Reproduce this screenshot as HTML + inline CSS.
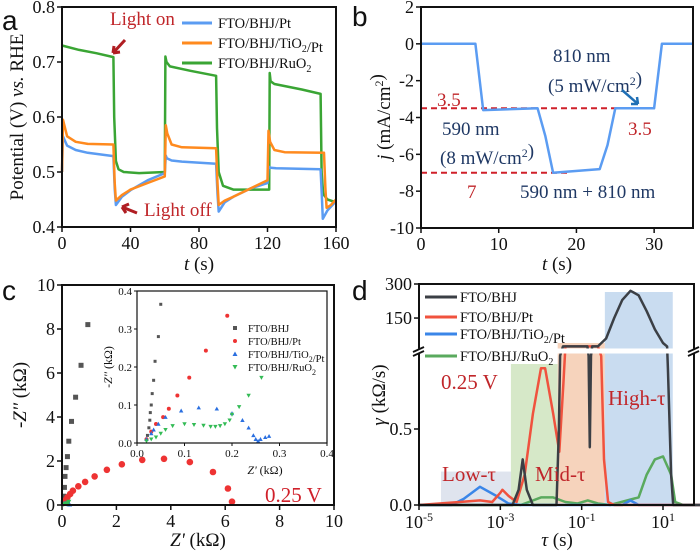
<!DOCTYPE html>
<html><head><meta charset="utf-8"><style>
html,body{margin:0;padding:0;background:#fff;}
svg{display:block;}
text{font-family:"Liberation Serif","Times New Roman",serif;}
.tk{font-size:18px;fill:#111;}
.tt{font-size:19px;fill:#111;}
text.pl{font-family:"Liberation Sans",sans-serif;font-size:28px;fill:#111;}
</style></head><body>
<svg id="s" width="700" height="552" viewBox="0 0 700 552" xmlns="http://www.w3.org/2000/svg"></svg>
<script>
// ---------- Panel a data ----------
const aPtT=[0,0.5,3,8,15,30,30.8,31.5,35,40,50,60,60.6,61.2,64,70,90,90.8,91.5,95,100,110,120,120.6,121.2,125,151,151.8,152.3,155,160];
const aPtV=[0.50,0.565,0.548,0.54,0.535,0.529,0.47,0.44,0.455,0.467,0.485,0.498,0.53,0.525,0.521,0.519,0.515,0.46,0.428,0.445,0.455,0.47,0.48,0.51,0.508,0.507,0.505,0.45,0.415,0.43,0.447];
const aTiT=[0,0.6,3,8,15,30,30.8,31.5,35,40,50,60,60.6,61.5,64,70,90,90.8,91.5,95,100,110,120,120.6,121.5,124,130,153,153.8,154.5,157,160];
const aTiV=[0.50,0.595,0.565,0.555,0.551,0.55,0.48,0.448,0.458,0.468,0.48,0.492,0.585,0.57,0.55,0.545,0.543,0.48,0.44,0.448,0.455,0.47,0.485,0.575,0.555,0.54,0.536,0.535,0.47,0.435,0.44,0.45];
const aRuT=[0,10,20,30,30.5,31.5,33,36,45,60,60.4,61,63,75,90,90.5,91.5,94,100,121,121.3,121.8,124,140,151,151.6,152.5,155,160];
const aRuV=[0.73,0.722,0.716,0.709,0.6,0.52,0.505,0.50,0.498,0.50,0.71,0.70,0.692,0.684,0.675,0.58,0.5,0.475,0.468,0.468,0.68,0.665,0.66,0.65,0.642,0.5,0.46,0.45,0.445];
const aXT=[0,40,80,120,160], aYT=[0.4,0.5,0.6,0.7,0.8];
// ---------- Panel b data ----------
const bT=[0,7,8,15,16,17,23,24,25,30,31,35];
const bJ=[0,0,-3.6,-3.5,-5,-7,-6.8,-5.5,-3.5,-3.5,0,0];
const bXT=[0,10,20,30], bYT=[2,0,-2,-4,-6,-8,-10];
// ---------- Panel c data ----------
const cBhjX=[0.05,0.07,0.09,0.11,0.15,0.2,0.25,0.35,0.5,0.7,0.95];
const cBhjY=[0.1,0.4,0.8,1.3,1.7,2.2,2.9,3.8,4.9,6.35,8.2];
const cPtX=[0.1,0.2,0.3,0.4,0.6,0.85,1.2,1.65,2.2,2.95,3.75,4.7,5.55,6.1,6.25];
const cPtY=[0.2,0.35,0.5,0.65,0.85,1.05,1.3,1.6,1.85,2.05,2.1,1.95,1.5,0.75,0.15];
const cTiX=[0.05,0.1,0.15,0.2,0.25,0.28];
const cTiY=[0.05,0.08,0.09,0.08,0.04,0.02];
const cRuX=[0.05,0.1,0.15,0.2,0.25];
const cRuY=[0.03,0.05,0.05,0.08,0.15];
const iBhjX=[0.02,0.022,0.025,0.027,0.028,0.03,0.032,0.035,0.038,0.045,0.05];
const iBhjY=[0.01,0.02,0.04,0.06,0.08,0.1,0.13,0.165,0.215,0.28,0.365];
const iPtX=[0.02,0.03,0.04,0.055,0.067,0.085,0.11,0.145,0.19];
const iPtY=[0.01,0.03,0.05,0.068,0.09,0.125,0.172,0.243,0.335];
const iTiX=[0.02,0.03,0.035,0.045,0.06,0.093,0.13,0.168,0.2,0.222,0.235,0.245,0.25,0.255,0.26,0.27,0.278];
const iTiY=[0.01,0.025,0.035,0.05,0.068,0.085,0.093,0.09,0.078,0.06,0.04,0.02,0.01,0.005,0.01,0.015,0.018];
const iRuX=[0.02,0.03,0.04,0.05,0.06,0.075,0.1,0.12,0.14,0.155,0.165,0.175,0.185,0.195,0.2,0.215,0.235,0.262];
const iRuY=[0.005,0.01,0.015,0.025,0.035,0.045,0.05,0.048,0.046,0.043,0.043,0.045,0.05,0.06,0.075,0.095,0.125,0.172];
const cT=[0,2,4,6,8,10], iT=[0,0.1,0.2,0.3,0.4];
// ---------- Panel d data (log10 tau, gamma) ----------
const dBhjL=[-5,-2.7,-2.55,-2.45,-2.35,-2.2,-1.62,-1.56,-1.53,-1.46,-0.86,-0.83,-0.8,-0.77,-0.74,-0.6,-0.4,-0.2,0,0.2,0.4,0.6,0.8,1.0,1.1,1.12,1.2,1.25,2];
const dBhjG=[0,0,0.1,0.3,0.1,0,0,0.5,1.5,25,25,1.2,0.38,1.2,25,25,60,150,230,270,250,180,100,40,25,0.9,0.2,0,0];
const dPtL=[-5,-4,-3.5,-3.2,-3,-2.95,-2.8,-2.6,-2.4,-2.2,-2.0,-1.9,-1.7,-1.55,-1.45,-1.4,-0.6,-0.52,-0.45,-0.35,-0.2,2];
const dPtG=[0,0.02,0.03,0.02,0.08,0.1,0.06,0.02,0.2,0.6,0.9,0.9,0.6,0.35,0.8,25,25,1.0,0.3,0.02,0,0];
const dTiL=[-5,-4.2,-3.9,-3.5,-3.1,-2.8,-2.5,0,0.2,0.4,2];
const dTiG=[0,0,0.04,0.12,0.06,0.01,0,0,0.03,0,0];
const dRuL=[-5,-2.5,-2.3,-2,-1.7,-1.4,-1.1,-0.85,-0.6,-0.3,0.4,0.6,0.8,1.0,1.2,1.3,1.5,2];
const dRuG=[0,0,0.02,0.05,0.05,0.02,0.01,0.03,0.01,0,0.05,0.2,0.3,0.32,0.2,0.02,0,0];

const S=document.getElementById('s');
const NS='http://www.w3.org/2000/svg';
function mk(tag,attrs,name,txt){const e=document.createElementNS(NS,tag);for(const k in attrs)e.setAttribute(k,attrs[k]);


if(txt!==undefined)e.textContent=txt;S.appendChild(e);return e;}
function sub(t,fs){return '<tspan dy="4" font-size="'+fs+'">'+t+'</tspan><tspan dy="-4"></tspan>';}
function sup(t,fs){return '<tspan dy="-7" font-size="'+fs+'">'+t+'</tspan><tspan dy="7"></tspan>';}
function lin(d0,d1,r0,r1){return v=>r0+(v-d0)*(r1-r0)/(d1-d0);}
function poly(xs,ys,fx,fy,col,name,w){let d='';for(let i=0;i<xs.length;i++)d+=(i?'L':'M')+fx(xs[i]).toFixed(1)+','+fy(ys[i]).toFixed(1);
return mk('path',{d:d,fill:'none',stroke:col,'stroke-width':w||2.5,'stroke-linejoin':'round'},name);}
function frame(x0,y0,x1,y1,name){mk('rect',{x:x0,y:y0,width:x1-x0,height:y1-y0,fill:'none',stroke:'#111','stroke-width':2},name);}
function xticks(vals,fx,y,name,fmt){vals.forEach(v=>{const x=fx(v);mk('line',{x1:x,y1:y,x2:x,y2:y+5,stroke:'#111','stroke-width':1.5},name+'-tick');
mk('text',{x:x,y:y+22,'text-anchor':'middle',class:'tk'},name+'-label',fmt?fmt(v):String(v));});}
function yticks(vals,fy,x,name,fmt){vals.forEach(v=>{const y=fy(v);mk('line',{x1:x-5,y1:y,x2:x,y2:y,stroke:'#111','stroke-width':1.5},name+'-tick');
mk('text',{x:x-7,y:y+6,'text-anchor':'end',class:'tk'},name+'-label',fmt?fmt(v):String(v));});}

// ===== Panel a =====
{const fx=lin(0,160,62,336),fy=lin(0.4,0.8,227,7);
mk('text',{x:2,y:30,class:'pl'},'panel-a-letter','a');
poly(aRuT,aRuV,fx,fy,'#3aa534','series-ruo2');
poly(aPtT,aPtV,fx,fy,'#5b9cf2','series-pt');
poly(aTiT,aTiV,fx,fy,'#ff8a1e','series-tio2-pt');
frame(62,7,336,227,'plot-frame-a');
xticks(aXT,fx,227,'x-axis-a');yticks(aYT,fy,62,'y-axis-a',v=>v.toFixed(1));
mk('text',{x:199,y:270,'text-anchor':'middle',class:'tt'},'x-axis-title-a','').innerHTML='<tspan font-style="italic">t</tspan> (s)';
mk('text',{transform:'translate(23,117) rotate(-90)','text-anchor':'middle',class:'tt'},'y-axis-title-a','').innerHTML='Potential (V) <tspan font-style="italic">vs.</tspan> RHE';
mk('text',{x:110,y:25,class:'tt',style:'fill:#c0262a'},'annotation-light-on','Light on');
mk('text',{x:144,y:216,class:'tt',style:'fill:#c0262a'},'annotation-light-off','Light off');
mk('path',{d:'M125,40 L113,53 M113,53 l1,-7 M113,53 l7,-1',stroke:'#b01e23','stroke-width':3,fill:'none'},'arrow-light-on');
mk('path',{d:'M137,213 L122,207 M122,207 l7,-3 M122,207 l4,6',stroke:'#b01e23','stroke-width':3,fill:'none'},'arrow-light-off');
const lg=[['#5b9cf2','FTO/BHJ/Pt'],['#ff8a1e','FTO/BHJ/TiO'+sub('2',10)+'/Pt'],['#3aa534','FTO/BHJ/RuO'+sub('2',10)]];
lg.forEach((l,i)=>{const y=23+i*20;mk('line',{x1:182,y1:y,x2:212,y2:y,stroke:l[0],'stroke-width':3},'legend-a-swatch');
mk('text',{x:218,y:y+5,class:'tt',style:'font-size:14.5px'},'legend-a-entry','').innerHTML=l[1];});}

// ===== Panel b =====
{const fx=lin(0,35,421,693),fy=lin(-10,2,228,7);
mk('text',{x:352,y:26,class:'pl'},'panel-b-letter','b');
mk('line',{x1:421,y1:fy(-3.5),x2:fx(30),y2:fy(-3.5),stroke:'#d0202a','stroke-width':2,'stroke-dasharray':'6,4'},'ref-line-3.5');
mk('line',{x1:421,y1:fy(-7),x2:fx(19),y2:fy(-7),stroke:'#d0202a','stroke-width':2,'stroke-dasharray':'6,4'},'ref-line-7');
poly(bT,bJ,fx,fy,'#5b9cf2','series-photocurrent');
frame(421,7,693,228,'plot-frame-b');
xticks(bXT,fx,228,'x-axis-b');yticks(bYT,fy,421,'y-axis-b');
mk('text',{x:557,y:270,'text-anchor':'middle',class:'tt'},'x-axis-title-b','').innerHTML='<tspan font-style="italic">t</tspan> (s)';
mk('text',{transform:'translate(390,117) rotate(-90)','text-anchor':'middle',class:'tt'},'y-axis-title-b','').innerHTML='<tspan font-style="italic">j</tspan> (mA/cm'+sup('2',12)+')';
const nv='fill:#1f3864';
mk('text',{x:553,y:62,class:'tt',style:nv},'label-810nm','810 nm');
mk('text',{x:548,y:92,class:'tt',style:nv},'label-810-power','').innerHTML='(5 mW/cm'+sup('2',12)+')';
mk('text',{x:442,y:135,class:'tt',style:nv},'label-590nm','590 nm');
mk('text',{x:440,y:164,class:'tt',style:nv},'label-590-power','').innerHTML='(8 mW/cm'+sup('2',12)+')';
mk('text',{x:520,y:198,class:'tt',style:nv},'label-590-810','590 nm + 810 nm');
const rd='fill:#c0262a';
mk('text',{x:437,y:106,class:'tt',style:rd},'label-3.5-left','3.5');
mk('text',{x:628,y:135,class:'tt',style:rd},'label-3.5-right','3.5');
mk('text',{x:467,y:198,class:'tt',style:rd},'label-7','7');
mk('path',{d:'M622,90 L638,104 M638,104 l-7,0 M638,104 l-1,-7',stroke:'#1f6fb5','stroke-width':2.5,fill:'none'},'arrow-810');}

// ===== Panel c =====
{const fx=lin(0,10,62,334),fy=lin(0,10,505,285);
mk('text',{x:2,y:300,class:'pl'},'panel-c-letter','c');
function sq(xs,ys,fx,fy,col,n,s){xs.forEach((x,i)=>mk('rect',{x:fx(x)-s/2,y:fy(ys[i])-s/2,width:s,height:s,fill:col},n));}
function ci(xs,ys,fx,fy,col,n,r){xs.forEach((x,i)=>mk('circle',{cx:fx(x),cy:fy(ys[i]),r:r,fill:col},n));}
function tri(xs,ys,fx,fy,col,n,s,dn){xs.forEach((x,i)=>{const X=fx(x),Y=fy(ys[i]);const d=dn?`M${X-s},${Y-s*0.8}L${X+s},${Y-s*0.8}L${X},${Y+s}Z`:`M${X-s},${Y+s*0.8}L${X+s},${Y+s*0.8}L${X},${Y-s}Z`;mk('path',{d:d,fill:col},n);});}
sq(cBhjX,cBhjY,fx,fy,'#555','marker-bhj',5);
ci(cPtX,cPtY,fx,fy,'#ee3333','marker-pt',3.3);
tri(cTiX,cTiY,fx,fy,'#2a6fe0','marker-tio2',2.5,false);
tri(cRuX,cRuY,fx,fy,'#33bb55','marker-ruo2',2.5,true);
frame(62,285,334,505,'plot-frame-c');
xticks(cT,fx,505,'x-axis-c');yticks(cT,fy,62,'y-axis-c');
mk('text',{x:198,y:546,'text-anchor':'middle',class:'tt'},'x-axis-title-c','').innerHTML='<tspan font-style="italic">Z\'</tspan> (kΩ)';
mk('text',{transform:'translate(26,395) rotate(-90)','text-anchor':'middle',class:'tt'},'y-axis-title-c','').innerHTML='-<tspan font-style="italic">Z\'\'</tspan> (kΩ)';
mk('text',{x:265,y:502,class:'tt',style:'fill:#d0202a;font-size:21px'},'label-0.25v-c','0.25 V');
const gx=lin(0,0.4,137,327),gy=lin(0,0.4,443,291);
mk('rect',{x:137,y:291,width:190,height:152,fill:'#fff'},'inset-bg');
sq(iBhjX,iBhjY,gx,gy,'#555','inset-marker-bhj',3);
ci(iPtX,iPtY,gx,gy,'#ee3333','inset-marker-pt',2);
tri(iTiX,iTiY,gx,gy,'#2a6fe0','inset-marker-tio2',2.2,false);
tri(iRuX,iRuY,gx,gy,'#33bb55','inset-marker-ruo2',2.2,true);
mk('rect',{x:137,y:291,width:190,height:152,fill:'none',stroke:'#111','stroke-width':1.2},'inset-frame');
iT.forEach(v=>{mk('line',{x1:gx(v),y1:443,x2:gx(v),y2:446,stroke:'#111'},'inset-x-tick');
mk('text',{x:gx(v),y:457,'text-anchor':'middle',class:'tk',style:'font-size:11px'},'inset-x-label',v.toFixed(1));
mk('line',{x1:134,y1:gy(v),x2:137,y2:gy(v),stroke:'#111'},'inset-y-tick');
mk('text',{x:132,y:gy(v)+4,'text-anchor':'end',class:'tk',style:'font-size:11px'},'inset-y-label',v.toFixed(1));});
mk('text',{x:265,y:474,'text-anchor':'middle',class:'tt',style:'font-size:12px'},'inset-x-title','').innerHTML='<tspan font-style="italic">Z\'</tspan> (kΩ)';
mk('text',{transform:'translate(112,367) rotate(-90)','text-anchor':'middle',class:'tt',style:'font-size:12px'},'inset-y-title','').innerHTML='-<tspan font-style="italic">Z\'\'</tspan> (kΩ)';
const ly=[328,341,354,367],lx=235;
mk('rect',{x:lx-2,y:ly[0]-2,width:4,height:4,fill:'#555'},'inset-legend-bhj-marker');
mk('circle',{cx:lx,cy:ly[1],r:2,fill:'#ee3333'},'inset-legend-pt-marker');
mk('path',{d:`M${lx-2.5},${ly[2]+2}L${lx+2.5},${ly[2]+2}L${lx},${ly[2]-2.5}Z`,fill:'#2a6fe0'},'inset-legend-tio2-marker');
mk('path',{d:`M${lx-2.5},${ly[3]-2}L${lx+2.5},${ly[3]-2}L${lx},${ly[3]+2.5}Z`,fill:'#33bb55'},'inset-legend-ruo2-marker');
['FTO/BHJ','FTO/BHJ/Pt','FTO/BHJ/TiO'+sub('2',8)+'/Pt','FTO/BHJ/RuO'+sub('2',8)].forEach((t,i)=>
mk('text',{x:lx+13,y:ly[i]+4,class:'tk',style:'font-size:10.5px'},'inset-legend-entry','').innerHTML=t);}

// ===== Panel d =====
{const fx=lin(-5,1,419,663);
const lo=lin(0,0.5,505,429), hi=lin(18,300,348,284);
const fy=g=>g<=0.98?lo(g):(g<18?356-(g-0.98)*(8/17):hi(g));
mk('text',{x:352,y:300,class:'pl'},'panel-d-letter','d');
const L=v=>fx(v);
mk('rect',{x:L(-4.46),y:lo(0.22),width:L(-2.74)-L(-4.46),height:505-lo(0.22),fill:'#dfe4ee'},'region-low-tau');
mk('rect',{x:L(-2.74),y:364,width:L(-1.59)-L(-2.74),height:141,fill:'#d6e8c8'},'region-mid-tau-green');
mk('rect',{x:L(-1.59),y:343,width:L(-0.43)-L(-1.59),height:162,fill:'#f6d3bc'},'region-mid-tau-orange');
mk('rect',{x:L(-0.43),y:292,width:L(1.24)-L(-0.43),height:213,fill:'#c9dcf0'},'region-high-tau');
poly(dRuL,dRuG,fx,fy,'#5aaa5e','series-d-ruo2',2.5);
poly(dTiL,dTiG,fx,fy,'#3a86e8','series-d-tio2',2.5);
poly(dPtL,dPtG,fx,fy,'#f0523e','series-d-pt',2.5);
poly(dBhjL,dBhjG,fx,fy,'#3b3f45','series-d-bhj',2.5);
mk('rect',{x:420,y:348.5,width:273,height:5,fill:'#fff'},'axis-break-gap');
frame(419,284,694,505,'plot-frame-d');
mk('rect',{x:412,y:348.5,width:286,height:5,fill:'#fff'},'axis-break-gap-frame');
['M413,352 l11,-5','M413,356 l11,-5','M688,352 l11,-5','M688,356 l11,-5'].forEach(d=>mk('path',{d:d,stroke:'#111','stroke-width':1.8},'axis-break-mark'));
const dx=[-5,-3,-1,1];
dx.forEach(v=>{const x=fx(v);mk('line',{x1:x,y1:505,x2:x,y2:510,stroke:'#111','stroke-width':1.5},'x-axis-d-tick');
mk('text',{x:x,y:528,'text-anchor':'middle',class:'tk'},'x-axis-d-label','').innerHTML='10'+sup(String(v),12);});
[[0,'0.0'],[0.5,'0.5']].forEach(t=>{const y=lo(t[0]);mk('line',{x1:414,y1:y,x2:419,y2:y,stroke:'#111','stroke-width':1.5},'y-axis-d-tick');
mk('text',{x:412,y:y+6,'text-anchor':'end',class:'tk'},'y-axis-d-label',t[1]);});
[[150,'150'],[300,'300']].forEach(t=>{const y=hi(t[0]);mk('line',{x1:414,y1:y,x2:419,y2:y,stroke:'#111','stroke-width':1.5},'y-axis-d-tick');
mk('text',{x:412,y:y+6,'text-anchor':'end',class:'tk'},'y-axis-d-label',t[1]);});
mk('text',{x:557,y:546,'text-anchor':'middle',class:'tt'},'x-axis-title-d','').innerHTML='<tspan font-style="italic">τ</tspan> (s)';
mk('text',{transform:'translate(385,395) rotate(-90)','text-anchor':'middle',class:'tt'},'y-axis-title-d','').innerHTML='<tspan font-style="italic">γ</tspan> (kΩ/s)';
const rd='fill:#c0262a';
mk('text',{x:442,y:481,class:'tt',style:rd+';font-size:21px'},'label-low-tau','Low-τ');
mk('text',{x:535,y:481,class:'tt',style:rd+';font-size:21px'},'label-mid-tau','Mid-τ');
mk('text',{x:608,y:405,class:'tt',style:rd+';font-size:21px'},'label-high-tau','High-τ');
mk('text',{x:441,y:389,class:'tt',style:rd+';font-size:21px'},'label-0.25v-d','0.25 V');
const lg=[['#3b3f45','FTO/BHJ'],['#f0523e','FTO/BHJ/Pt'],['#3a86e8','FTO/BHJ/TiO'+sub('2',10)+'/Pt'],['#5aaa5e','FTO/BHJ/RuO'+sub('2',10)]];
const ldy=[297,317,334,356];
lg.forEach((l,i)=>{const y=ldy[i];mk('line',{x1:425,y1:y,x2:457,y2:y,stroke:l[0],'stroke-width':3},'legend-d-swatch');
mk('text',{x:460,y:y+5,class:'tt',style:'font-size:14.5px'},'legend-d-entry','').innerHTML=l[1];});}
</script>
</body></html>
